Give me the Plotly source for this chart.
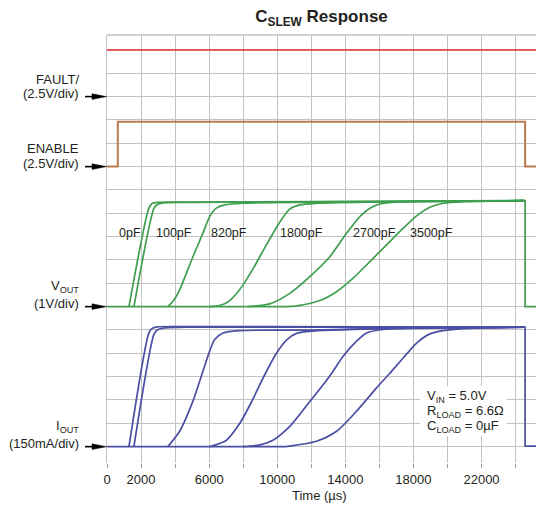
import plotly.graph_objects as go

FONT = "Liberation Sans, Arial, sans-serif"
TXT = "#231f20"

# ---- time axis (µs) ----
X_MAX = 25200
T_EN_ON = 635      # ENABLE rising edge
T_OFF = 24560      # ENABLE / output falling edge
T_FLAT_END = 24500

x_tick_vals = [0, 2000, 4000, 6000, 8000, 10000, 12000, 14000, 16000, 18000, 20000, 22000, 24000]
x_tick_text = ["0", "2000", "", "6000", "", "10000", "", "14000", "", "18000", "", "22000", ""]

# ---- channel ground levels (divisions) and scales ----
IOUT_LEVEL, VOUT_LEVEL, ENABLE_LEVEL, FAULT_LEVEL = 0, 6, 12, 15
IOUT_SCALE = 150.0   # mA/div
VOUT_SCALE = 1.0     # V/div
LOGIC_SCALE = 2.5    # V/div

# ---- FAULT/ and ENABLE (V) ----
fault_t = [0, X_MAX]
fault_v = [5.0, 5.0]
enable_t = [0, T_EN_ON, T_EN_ON, T_OFF, T_OFF, X_MAX]
enable_v = [0.0, 0.0, 4.8, 4.8, 0.0, 0.0]

# ---- CSLEW values and label positions ----
cap_names = ["0pF", "100pF", "820pF", "1800pF", "2700pF", "3500pF"]
cap_label_t = [1323, 3911, 7176, 11440, 15735, 19070]
cap_label_v = 3.15   # V above VOUT ground

# ---- VOUT (V) ----
VOUT_END = 4.54
vout_t_0pF = [0, 1290, 2450, 2650, 2950, 5000]
vout_v_0pF = [0, 0, 4.2, 4.42, 4.47, 4.48]
vout_t_100pF = [0, 1580, 2750, 2950, 3300, 5000]
vout_v_100pF = [0, 0, 4.2, 4.38, 4.45, 4.47]
vout_t_820pF = [0, 3576, 3900, 4265, 5047, 5635, 6029, 6423, 6912, 7988, 12000]
vout_v_820pF = [0, 0, 0.25, 0.72, 2.14, 3.15, 3.86, 4.22, 4.36, 4.43, 4.47]
vout_t_1800pF = [0, 6029, 6600, 7100, 7600, 8100, 8600, 9364, 10146, 10734, 11322, 12305, 16000]
vout_v_1800pF = [0, 0, 0.05, 0.20, 0.55, 1.05, 1.65, 2.65, 3.62, 4.18, 4.36, 4.43, 4.49]
vout_t_2700pF = [0, 8300, 9558, 10735, 11911, 13088, 14070, 14852, 15440, 16028, 17399]
vout_v_2700pF = [0, 0, 0.12, 0.57, 1.29, 2.14, 3.14, 3.86, 4.22, 4.40, 4.50]
vout_t_3500pF = [0, 10500, 11129, 12499, 13482, 14458, 15440, 16423, 17399, 18187, 18970, 19752, 20928]
vout_v_3500pF = [0, 0, 0.03, 0.26, 0.64, 1.22, 1.93, 2.65, 3.36, 3.89, 4.26, 4.43, 4.50]

# ---- IOUT (mA) ----
IOUT_END = 768
iout_t_0pF = [0, 1290, 2450, 2650, 2950, 5000]
iout_i_0pF = [0, 0, 728, 760, 770, 772]
iout_t_100pF = [0, 1580, 2750, 2950, 3300, 5000]
iout_i_100pF = [0, 0, 720, 750, 762, 768]
iout_t_820pF = [0, 3576, 4265, 5047, 5635, 6029, 6325, 6815, 7790, 12000, 17000]
iout_i_820pF = [0, 0, 99, 293, 485, 614, 689, 731, 746, 749, 762]
iout_t_1800pF = [0, 6029, 7000, 7800, 8500, 9164, 9952, 10541, 11129, 12105, 17000]
iout_i_1800pF = [0, 0, 40, 150, 290, 440, 600, 685, 728, 743, 760]
iout_t_2700pF = [0, 8000, 9000, 9800, 10735, 11911, 13088, 13870, 14658, 15246, 16223, 19000]
iout_i_2700pF = [0, 0, 12, 45, 130, 290, 455, 581, 678, 731, 753, 765]
iout_t_3500pF = [0, 10500, 12305, 13482, 14658, 15834, 16617, 17399, 18187, 18970, 19752, 20928]
iout_i_3500pF = [0, 0, 35, 99, 228, 378, 472, 570, 666, 725, 746, 759]

# ---- colours ----
C_FAULT = "#e2323a"
C_EN = "#b97a4e"
C_VOUT = "#3f9f4f"
C_IOUT = "#4b4fa3"
C_GRID = "#c2c2c2"

vout_sets = [(vout_t_0pF, vout_v_0pF), (vout_t_100pF, vout_v_100pF), (vout_t_820pF, vout_v_820pF),
             (vout_t_1800pF, vout_v_1800pF), (vout_t_2700pF, vout_v_2700pF), (vout_t_3500pF, vout_v_3500pF)]
iout_sets = [(iout_t_0pF, iout_i_0pF), (iout_t_100pF, iout_i_100pF), (iout_t_820pF, iout_i_820pF),
             (iout_t_1800pF, iout_i_1800pF), (iout_t_2700pF, iout_i_2700pF), (iout_t_3500pF, iout_i_3500pF)]

fig = go.Figure()

fig.add_trace(go.Scatter(x=fault_t, y=[FAULT_LEVEL + v / LOGIC_SCALE for v in fault_v],
                         mode="lines", line=dict(color=C_FAULT, width=1.6), name="FAULT/"))
fig.add_trace(go.Scatter(x=enable_t, y=[ENABLE_LEVEL + v / LOGIC_SCALE for v in enable_v],
                         mode="lines", line=dict(color=C_EN, width=2), name="ENABLE"))


def add_channel(sets, end_val, level, scale, color, label, off_val):
    # flat ground before the rises (linear)
    last_start = max(t[1] for t, _ in sets)
    fig.add_trace(go.Scatter(x=[0, last_start], y=[level + sets[0][1][0] / scale] * 2, mode="lines",
                             line=dict(color=color, width=1.7), name=label + " ground"))
    # each rise, smoothed, from its own start point
    for name, (t, v) in zip(cap_names, sets):
        xs = t[1:] + [T_FLAT_END]
        ys = [level + a / scale for a in v[1:] + [end_val]]
        fig.add_trace(go.Scatter(x=xs, y=ys, mode="lines",
                                 line=dict(color=color, width=1.7, shape="spline", smoothing=0.7),
                                 name=label + " " + name))
    # switch-off edge
    fig.add_trace(go.Scatter(x=[T_FLAT_END, T_OFF, T_OFF, X_MAX],
                             y=[level + a / scale for a in [end_val, end_val, off_val, off_val]],
                             mode="lines", line=dict(color=color, width=1.7), name=label + " off"))


add_channel(vout_sets, VOUT_END, VOUT_LEVEL, VOUT_SCALE, C_VOUT, "VOUT", 0)
add_channel(iout_sets, IOUT_END, IOUT_LEVEL, IOUT_SCALE, C_IOUT, "IOUT", 3)

annotations = []
shapes = []

# curve labels
for name, tx in zip(cap_names, cap_label_t):
    annotations.append(dict(x=tx, y=VOUT_LEVEL + cap_label_v / VOUT_SCALE, xref="x", yref="y",
                            text=name, showarrow=False, font=dict(size=12.5, color=TXT, family=FONT)))

# left channel labels with arrows
left_labels = [
    ("FAULT/", "(2.5V/div)", FAULT_LEVEL, 17),
    ("ENABLE", "(2.5V/div)", ENABLE_LEVEL, 18),
    ("V<sub>OUT</sub>", "(1V/div)", VOUT_LEVEL, 20),
    ("I<sub>OUT</sub>", "(150mA/div)", IOUT_LEVEL, 20),
]
PW = 429.0
for l1, l2, lev, sh in left_labels:
    annotations.append(dict(x=(81 - 107) / PW, y=lev, xref="paper", yref="y", xanchor="right",
                            yanchor="middle", yshift=sh, text=l1, showarrow=False,
                            font=dict(size=13, color=TXT, family=FONT)))
    annotations.append(dict(x=(81 - 107) / PW, y=lev, xref="paper", yref="y", xanchor="right",
                            yanchor="middle", yshift=3, text=l2, showarrow=False,
                            font=dict(size=13, color=TXT, family=FONT)))
    shapes.append(dict(type="line", xref="paper", yref="y", x0=(85 - 107) / PW, x1=(95 - 107) / PW,
                       y0=lev, y1=lev, line=dict(color="black", width=1.6)))
    hw = 2.8 / 23.33
    shapes.append(dict(type="path", xref="paper", yref="y",
                       path="M %f,%f L %f,%f L %f,%f Z" % ((92 - 107) / PW, lev - hw, (106.5 - 107) / PW, lev,
                                                           (92 - 107) / PW, lev + hw),
                       fillcolor="black", line=dict(color="black", width=0.5)))

# condition box
shapes.append(dict(type="rect", xref="x", yref="y", x0=18381, x1=23499, y0=0.46, y1=2.6,
                   fillcolor="white", line=dict(width=0), layer="above"))
cond_lines = ["V<sub>IN</sub> = 5.0V", "R<sub>LOAD</sub> = 6.6Ω", "C<sub>LOAD</sub> = 0µF"]
cond_y = [2.16, 1.52, 0.87]
for txt, yy in zip(cond_lines, cond_y):
    annotations.append(dict(x=18700, y=yy, xref="x", yref="y", xanchor="left", yanchor="middle",
                            text=txt, showarrow=False, font=dict(size=13, color=TXT, family=FONT)))

# top border
shapes.append(dict(type="line", xref="paper", yref="paper", x0=0, x1=1, y0=1, y1=1,
                   line=dict(color=C_GRID, width=1.3)))

# x-axis title
annotations.append(dict(x=0.495, y=-(495 - 463) / 428.0, xref="paper", yref="paper",
                        text="Time (µs)", showarrow=False, yanchor="middle",
                        font=dict(size=13, color=TXT, family=FONT)))

fig.update_layout(
    width=536, height=506,
    margin=dict(l=107, r=0, t=35, b=43),
    paper_bgcolor="white", plot_bgcolor="white",
    showlegend=False,
    font=dict(family=FONT, color=TXT, size=13),
    title=dict(text="<b>C<sub>SLEW</sub> Response</b>", x=0.5, xref="paper", xanchor="center",
               y=1 - 16 / 506, yref="container", yanchor="middle",
               font=dict(size=17, color=TXT, family=FONT)),
    xaxis=dict(range=[0, X_MAX], tickvals=x_tick_vals, ticktext=x_tick_text,
               showgrid=True, gridcolor=C_GRID, gridwidth=1.3, zeroline=False,
               ticks="outside", ticklen=4, tickcolor="#9a9a9a", tickwidth=1,
               showline=False, tickfont=dict(size=13, color=TXT, family=FONT)),
    yaxis=dict(range=[-0.70, 17.64], dtick=1, tick0=0, showticklabels=False,
               showgrid=True, gridcolor=C_GRID, gridwidth=1.3, zeroline=False,
               showline=True, linecolor=C_GRID, linewidth=1.3, ticks=""),
    annotations=annotations,
    shapes=shapes,
)

fig.write_html("out.html", config={"displayModeBar": False},
               post_script="document.body.style.margin='0px';")
